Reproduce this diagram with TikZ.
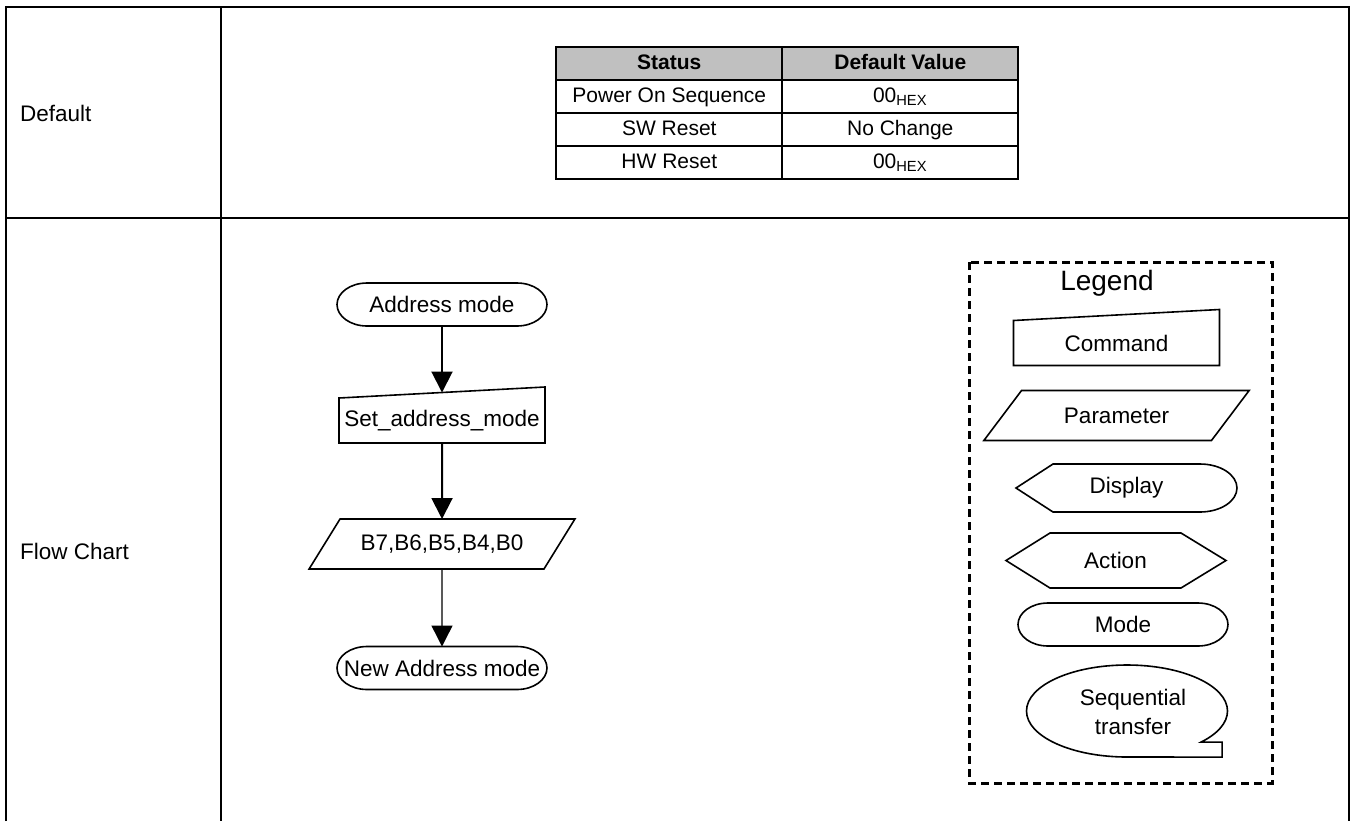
\documentclass[tikz,border=0pt]{standalone}
\usepackage{fontspec}
\setmainfont{Liberation Sans}
\usepackage{xcolor}
\usepackage{tikz}
\usetikzlibrary{shapes.geometric, arrows.meta, positioning, matrix}
\definecolor{headgray}{RGB}{192,192,192}
\tikzstyle{modebox} = [rectangle, minimum width=105pt, minimum height=21.5pt, inner sep=0pt, outer sep=0pt]
\tikzstyle{cmdbox} = [rectangle, minimum width=103pt, minimum height=22.5pt, inner sep=0pt, outer sep=0pt]
\tikzstyle{parbox} = [trapezium, trapezium left angle=37, trapezium right angle=143, trapezium stretches=true, draw, line width=0.8pt, minimum width=133pt, minimum height=25pt, inner sep=0pt, outer sep=0pt]
\tikzstyle{dispbox} = [rectangle, minimum width=73.5pt, minimum height=24pt, inner sep=0pt, outer sep=0pt]
\tikzstyle{actbox} = [rectangle, minimum width=65.5pt, minimum height=27.5pt, inner sep=0pt, outer sep=0pt]
\tikzstyle{seqbox} = [align=center, inner sep=0pt, font=\fontsize{11.25}{14.5}\selectfont]
\tikzstyle{outline} = [draw, line width=0.8pt]
\tikzstyle{flow} = [line width=1pt, -{Triangle[length=10.5pt, width=10.5pt]}]
\tikzstyle{cell} = [draw, line width=0.9pt, minimum height=16.5pt, text height=8pt, text depth=2.5pt, inner sep=0pt, font=\fontsize{10.5}{12}\selectfont]
\tikzstyle{frame} = [line width=1.2pt]

\newcommand{\modeshape}[1]{\draw[outline] ([xshift=15pt]#1.north west) -- ([xshift=-15pt]#1.north east) arc[start angle=90, end angle=-90, x radius=15pt, y radius=10.75pt] -- ([xshift=15pt]#1.south west) arc[start angle=270, end angle=90, x radius=15pt, y radius=10.75pt] -- cycle;}
\newcommand{\cmdshape}[1]{\draw[outline] (#1.south west) -- (#1.south east) -- ([yshift=5.5pt]#1.north east) -- (#1.north west) -- cycle;}
\newcommand{\dispshape}[1]{\draw[outline] (#1.north west) -- (#1.north east) arc[start angle=90, end angle=-90, x radius=18.5pt, y radius=12pt] -- (#1.south west) -- ([xshift=-18.5pt]#1.west) -- cycle;}
\newcommand{\actshape}[1]{\draw[outline] (#1.north west) -- (#1.north east) -- ([xshift=22.5pt]#1.east) -- (#1.south east) -- (#1.south west) -- ([xshift=-22pt]#1.west) -- cycle;}

\begin{document}
\begin{tikzpicture}[x=0.5pt, y=-0.5pt, font=\fontsize{11.25}{13.5}\selectfont]
    \useasboundingbox (0,0) rectangle (1357,821);

    % outer table
    \draw[frame] (6,821) -- (6,7) -- (1349,7) -- (1349,821);
    \draw[frame] (221,7) -- (221,821);
    \draw[frame] (6,218) -- (1349,218);
    \node[anchor=west] (deflabel) at (13,113) {Default};
    \node[anchor=west] (flowlabel) at (13,551) {Flow Chart};

    % default values
    \matrix (defaults) [matrix of nodes, anchor=north west, inner sep=0pt, nodes={cell},
        column sep=-0.9pt, row sep=-0.9pt,
        column 1/.style={nodes={minimum width=113pt}},
        column 2/.style={nodes={minimum width=118pt}},
        row 1/.style={nodes={fill=headgray, font=\fontsize{10.5}{12}\selectfont\bfseries}}] at (555,46) {
        Status & Default Value \\
        Power On Sequence & 00\textsubscript{HEX} \\
        SW Reset & No Change \\
        HW Reset & 00\textsubscript{HEX} \\
    };

    % flow chart
    \node[modebox] (start) at (442,304.5) {Address mode};
    \node[cmdbox, below of=start, node distance=58pt] (setcmd) {Set\_address\_mode};
    \node[parbox, below of=setcmd, node distance=61.75pt] (bits) {B7,B6,B5,B4,B0};
    \node[modebox, below of=bits, node distance=62pt] (newmode) {New Address mode};
    \modeshape{start}
    \cmdshape{setcmd}
    \modeshape{newmode}

    \draw[flow] (start) -- ([yshift=2.75pt]setcmd.north);
    \draw[flow] (setcmd) -- (bits);
    \draw[flow, line width=0.7pt] (bits) -- (newmode);

    % legend
    \draw[line width=1.5pt, dash pattern=on 4pt off 2.5pt] (969,262) rectangle (1272,783);
    \node[font=\fontsize{14}{16}\selectfont] (legend) at (1107,283) {Legend};
    \node[cmdbox] (lcmd) at (1116.5,343) {Command};
    \node[parbox] (lpar) at (1116.5,415.5) {Parameter};
    \node[dispbox] (ldisp) at (1126.5,488) {Display};
    \node[actbox] (lact) at (1115.5,560.5) {Action};
    \node[modebox] (lmode) at (1123,624.5) {Mode};
    \node[seqbox] (lseq) at (1133,712) {Sequential\\transfer};
    \cmdshape{lcmd}
    \dispshape{ldisp}
    \actshape{lact}
    \modeshape{lmode}
    \draw[outline] ([shift={(-3pt,-22.5pt)}]lseq.center) arc[start angle=270, end angle=-42.5, x radius=50.25pt, y radius=23pt] -- ++(10.5pt,0pt) -- ++(0pt,-7.5pt) -- cycle;
\end{tikzpicture}
\end{document}
